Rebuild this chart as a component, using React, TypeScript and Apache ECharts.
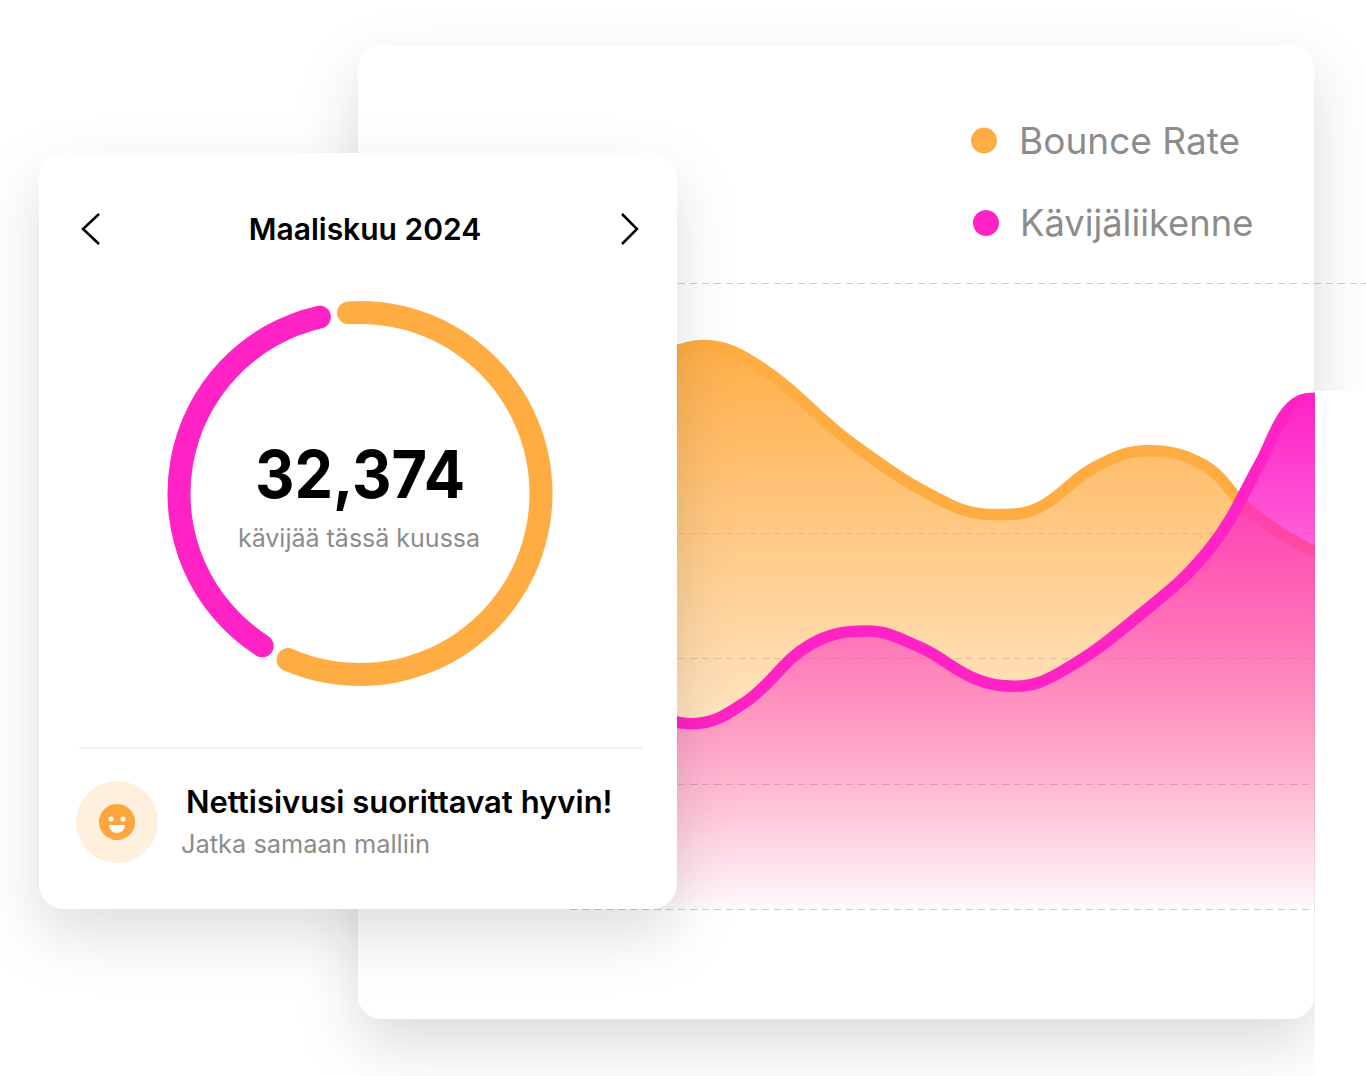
import React, { useEffect, useRef } from "react";
import * as echarts from "echarts";

const bounceDays = [-1.31, 1.26, 4.03, 8.65, 13.27, 15.69, 17.63, 20.31, 22.89, 25.66, 27.84, 31, 32.46];
const bounceValues = [4.37, 4.5, 4.33, 3.7, 3.23, 3.15, 3.21, 3.53, 3.66, 3.54, 3.18, 2.85, 2.79];
const trafficDays = [-1.31, 0.73, 3.3, 6.46, 9.23, 11.81, 14.48, 16.42, 18.61, 22.5, 25.9, 28.33, 29.45, 30.27, 31, 32.46];
const trafficValues = [1.55, 1.48, 1.65, 2.11, 2.22, 2.09, 1.84, 1.78, 1.89, 2.35, 2.88, 3.56, 3.93, 4.06, 4.08, 4.08];
const gridTicks = [0, 1, 2, 3, 5];
const donutNames = ["Bounce Rate", "Kävijäliikenne"];
const donutValues = [19456, 12918];

const ORANGE = "#FFAC42";
const PINK = "#FF22C5";
const FONT = "Inter, 'Noto Sans', sans-serif";

function pairs(xs: number[], ys: number[]) {
  return xs.map((x, i) => [x, ys[i]]);
}

function grad(rgb: string, top: number, bottom: number) {
  return new echarts.graphic.LinearGradient(0, 0, 0, 1, [
    { offset: 0, color: `rgba(${rgb},${top})` },
    { offset: 1, color: `rgba(${rgb},${bottom})` },
  ]);
}

export default function App() {
  const ref = useRef<HTMLDivElement>(null);
  useEffect(() => {
    document.body.style.margin = "0";
    document.body.style.background = "#fff";
    const chart = echarts.init(ref.current!, null, { renderer: "svg" });
    const text = (t: string, x: number, y: number, size: number, weight: number, fill: string, align = "left", scaleX = 1) => ({
      type: "text",
      z: 21,
      silent: true,
      x,
      y,
      scaleX,
      style: { text: t, x: 0, y: 0, fill, align, verticalAlign: "middle", fontFamily: FONT, fontSize: size, fontWeight: weight },
    });
    chart.setOption({
      animation: false,
      backgroundColor: "#fff",
      grid: { left: 570, right: 0, top: 283, bottom: 167, containLabel: false },
      xAxis: { type: "value", min: -5.2, max: 33.48, show: false, splitLine: { show: false } },
      yAxis: {
        type: "value",
        min: 0,
        max: 5,
        axisLine: { show: false },
        axisLabel: { show: false },
        axisTick: { show: false, customValues: gridTicks },
        splitLine: { show: true, lineStyle: { color: "rgba(0,0,0,0.2)", type: [7, 5], width: 1 } },
      },
      legend: [
        {
          data: [donutNames[0]], left: 966, top: 117, icon: "circle", itemWidth: 26, itemHeight: 26, itemGap: 0,
          textStyle: { color: "#8c8c8c", fontFamily: FONT, fontSize: 37, fontWeight: 400, padding: [0, 0, 0, 17] },
        },
        {
          data: [donutNames[1]], left: 968, top: 200, icon: "circle", itemWidth: 26, itemHeight: 26, itemGap: 0,
          textStyle: { color: "#8c8c8c", fontFamily: FONT, fontSize: 36.3, fontWeight: 400, padding: [0, 0, 0, 16] },
        },
      ],
      series: [
        {
          name: donutNames[0], type: "line", data: pairs(bounceDays, bounceValues), smooth: 0.4, showSymbol: false, z: 2,
          color: ORANGE, itemStyle: { color: ORANGE },
          lineStyle: { color: ORANGE, width: 11.5 },
          areaStyle: { color: grad("255,172,66", 0.97, 0), origin: "start", opacity: 1 },
        },
        {
          name: donutNames[1], type: "line", data: pairs(trafficDays, trafficValues), smooth: 0.4, showSymbol: false, z: 3,
          color: PINK, itemStyle: { color: PINK },
          lineStyle: { color: PINK, width: 11.5 },
          areaStyle: { color: grad("255,34,200", 1, 0.02), origin: "start", opacity: 1 },
        },
        {
          type: "pie", z: 20, silent: true, center: [360, 493.5], radius: [169.5, 192.5], startAngle: 98.3, padAngle: 2, clockwise: true,
          label: { show: false }, labelLine: { show: false },
          itemStyle: { borderRadius: 12 },
          data: [
            { name: "Orange", value: donutValues[0], itemStyle: { color: ORANGE } },
            { name: "Pink", value: donutValues[1], itemStyle: { color: PINK } },
          ],
        },
      ],
      graphic: {
        elements: [
          {
            type: "rect", z: -1, silent: true,
            shape: { x: 358, y: 45, width: 956, height: 974, r: 24 },
            style: { fill: "#fff", shadowBlur: 60, shadowOffsetY: 25, shadowColor: "rgba(0,0,0,0.14)" },
          },
          { type: "rect", z: 5, silent: true, shape: { x: 1315, y: 391, width: 51, height: 685 }, style: { fill: "#fff" } },
          {
            type: "rect", z: 10, silent: true,
            shape: { x: 39, y: 153, width: 638, height: 756, r: 26 },
            style: { fill: "#fff", shadowBlur: 60, shadowOffsetY: 25, shadowColor: "rgba(0,0,0,0.13)" },
          },
          { type: "polyline", z: 21, silent: true, shape: { points: [[99, 214], [83, 229], [99, 244]] }, style: { fill: "none", stroke: "#000", lineWidth: 2.5 } },
          { type: "polyline", z: 21, silent: true, shape: { points: [[622, 214], [637, 229], [622, 244]] }, style: { fill: "none", stroke: "#000", lineWidth: 2.5 } },
          text("Maaliskuu 2024", 365, 229, 30, 600, "#000", "center"),
          text("32,374", 360, 474, 66, 700, "#000", "center", 0.928),
          text("kävijää tässä kuussa", 359, 538, 25, 400, "#8c8c8c", "center"),
          { type: "line", z: 21, silent: true, shape: { x1: 79, y1: 748, x2: 642, y2: 748 }, style: { stroke: "#e2e2e2", lineWidth: 1 } },
          { type: "circle", z: 21, silent: true, shape: { cx: 117, cy: 822, r: 41 }, style: { fill: "#FFF0DD" } },
          { type: "circle", z: 22, silent: true, shape: { cx: 117, cy: 822, r: 18 }, style: { fill: "#FFA53D" } },
          { type: "circle", z: 23, silent: true, shape: { cx: 111, cy: 819, r: 2.5 }, style: { fill: "#fff" } },
          { type: "circle", z: 23, silent: true, shape: { cx: 123, cy: 819, r: 2.5 }, style: { fill: "#fff" } },
          { type: "sector", z: 23, silent: true, shape: { cx: 117, cy: 825, r: 8, r0: 0, startAngle: 0, endAngle: Math.PI, clockwise: true }, style: { fill: "#fff" } },
          text("Nettisivusi suorittavat hyvin!", 186, 801, 31, 600, "#000"),
          text("Jatka samaan malliin", 181, 843, 25.4, 400, "#8c8c8c"),
        ],
      },
    });
    return () => chart.dispose();
  }, []);
  return <div ref={ref} style={{ position: "absolute", left: 0, top: 0, width: 1366, height: 1076 }} />;
}
